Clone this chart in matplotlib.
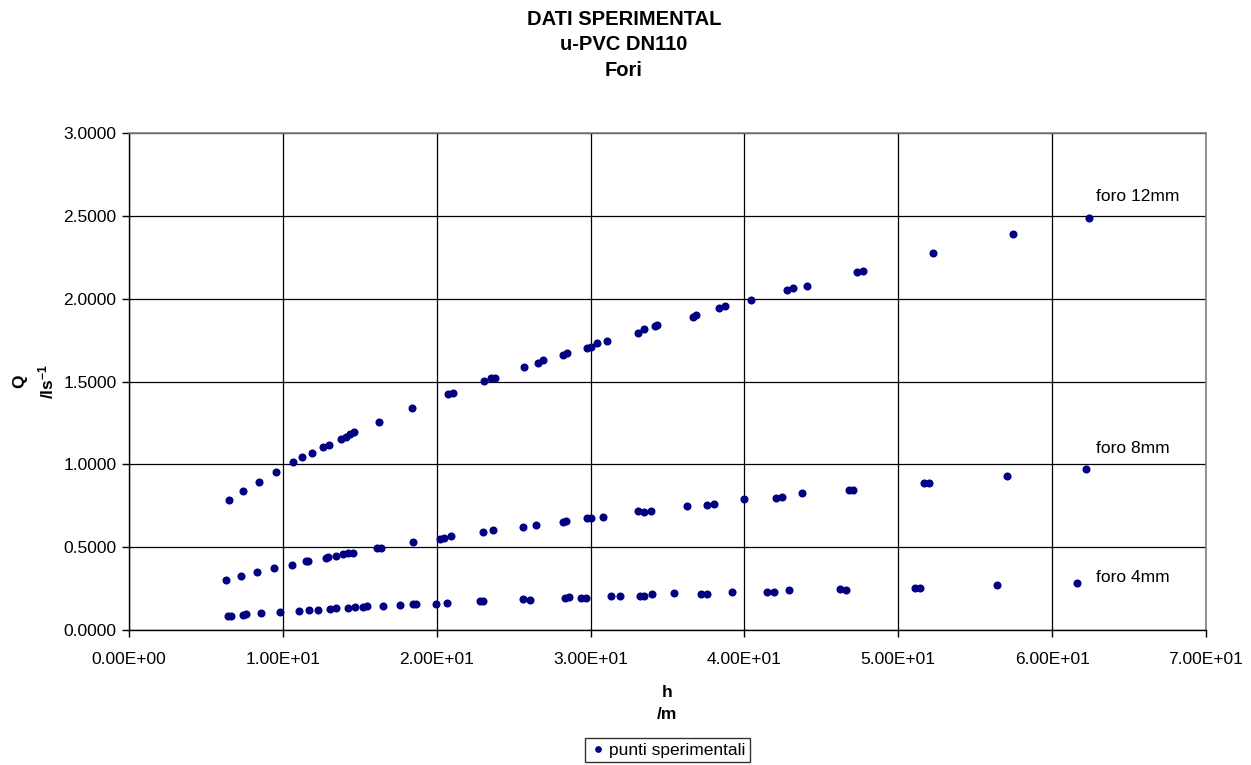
import numpy as np
import matplotlib
matplotlib.use("Agg")
import matplotlib.pyplot as plt
from matplotlib.ticker import FuncFormatter, MultipleLocator

plt.rcParams['font.family'] = ['Liberation Sans', 'DejaVu Sans']
plt.rcParams['mathtext.fontset'] = 'custom'
plt.rcParams['mathtext.rm'] = 'Liberation Sans'
plt.rcParams['mathtext.bf'] = 'Liberation Sans:bold'

# foro 12mm
h_12 = [6.52, 7.43, 8.45, 9.55, 10.68, 11.22, 11.87, 12.63, 13.0, 13.78, 14.08, 14.36,
        14.64, 16.25, 18.41, 20.75, 21.04, 23.07, 23.51, 23.79, 25.69, 26.6, 26.93,
        28.19, 28.45, 29.75, 30.03, 30.4, 31.05, 33.1, 33.47, 34.19, 34.34, 36.64,
        36.85, 38.35, 38.74, 40.43, 42.75, 43.14, 44.05, 47.34, 47.69, 52.27, 57.43, 62.4]
q_12 = [0.785, 0.839, 0.895, 0.954, 1.012, 1.042, 1.067, 1.105, 1.117, 1.151, 1.167, 1.181,
        1.193, 1.256, 1.340, 1.425, 1.429, 1.501, 1.521, 1.523, 1.588, 1.610, 1.630,
        1.660, 1.674, 1.700, 1.710, 1.731, 1.746, 1.795, 1.815, 1.837, 1.841, 1.891,
        1.900, 1.945, 1.956, 1.990, 2.054, 2.063, 2.076, 2.163, 2.169, 2.276, 2.389, 2.487]

# foro 8mm
h_8 = [6.33, 7.25, 8.29, 9.42, 10.57, 11.5, 11.65, 12.78, 12.95, 13.45, 13.93, 14.25,
       14.53, 16.1, 16.4, 18.48, 20.2, 20.5, 20.9, 23.03, 23.63, 25.6, 26.45, 28.2,
       28.4, 29.75, 30.0, 30.8, 33.1, 33.47, 33.9, 36.3, 37.6, 38.04, 40.0, 42.03,
       42.46, 43.76, 46.8, 47.07, 51.7, 52.0, 57.1, 62.2]
q_8 = [0.302, 0.326, 0.348, 0.372, 0.394, 0.415, 0.418, 0.437, 0.441, 0.449, 0.459, 0.465,
       0.467, 0.493, 0.497, 0.529, 0.549, 0.553, 0.565, 0.590, 0.604, 0.624, 0.634, 0.654,
       0.660, 0.678, 0.674, 0.684, 0.718, 0.710, 0.717, 0.750, 0.753, 0.759, 0.791, 0.799,
       0.803, 0.825, 0.843, 0.843, 0.885, 0.885, 0.932, 0.972]

# foro 4mm
h_4 = [6.45, 6.6, 7.38, 7.58, 8.58, 9.81, 11.07, 11.72, 12.3, 13.06, 13.45, 14.25,
       14.68, 15.22, 15.44, 16.48, 17.6, 18.48, 18.63, 19.93, 20.64, 22.81, 23.02, 25.6,
       26.05, 28.33, 28.6, 29.4, 29.68, 31.3, 31.9, 33.2, 33.5, 34.0, 35.4, 37.15, 37.6,
       39.2, 41.5, 41.9, 42.9, 46.2, 46.6, 51.1, 51.4, 56.45, 61.6]
q_4 = [0.085, 0.087, 0.092, 0.095, 0.101, 0.107, 0.115, 0.121, 0.123, 0.127, 0.133, 0.135,
       0.137, 0.141, 0.143, 0.145, 0.153, 0.155, 0.155, 0.157, 0.161, 0.173, 0.175, 0.187,
       0.181, 0.193, 0.197, 0.193, 0.195, 0.205, 0.207, 0.203, 0.205, 0.215, 0.221, 0.217,
       0.217, 0.231, 0.231, 0.231, 0.243, 0.246, 0.243, 0.255, 0.255, 0.272, 0.282]

labels = ['foro 12mm', 'foro 8mm', 'foro 4mm']
label_pos = [(62.83, 2.614), (62.83, 1.097), (62.83, 0.318)]

h_all = np.concatenate([h_12, h_8, h_4])
q_all = np.concatenate([q_12, q_8, q_4])

FS = 12.5

fig = plt.figure(figsize=(12.51, 7.65), dpi=100)
ax = fig.add_axes([0.1031, 0.1765, 0.8609, 0.6496])

ax.plot(h_all, q_all, 'o', color='#000080', markersize=4.8, label='punti sperimentali',
        zorder=3)

for txt, (x, y) in zip(labels, label_pos):
    ax.text(x, y, txt, fontsize=FS, ha='left', va='center')

ax.set_xlim(0, 70)
ax.set_ylim(0, 3)
ax.xaxis.set_major_locator(MultipleLocator(10))
ax.yaxis.set_major_locator(MultipleLocator(0.5))
ax.xaxis.set_major_formatter(FuncFormatter(lambda v, p: '{:.2E}'.format(v)))
ax.yaxis.set_major_formatter(FuncFormatter(lambda v, p: '{:.4f}'.format(v)))
ax.tick_params(labelsize=FS, direction='out', length=5, width=1, color='black', pad=4)
ax.tick_params(axis='x', pad=11)
ax.grid(True, color='black', linewidth=0.9)
ax.set_axisbelow(True)

for s in ['top', 'right']:
    ax.spines[s].set_color('#808080')
    ax.spines[s].set_linewidth(1.2)
for s in ['left', 'bottom']:
    ax.spines[s].set_color('black')
    ax.spines[s].set_linewidth(1)

ax.set_xlabel('h\n/m', fontsize=FS, fontweight='bold', labelpad=13, linespacing=1.55)
ax.set_ylabel('Q\n/ls$\\mathbf{^{-1}}$', fontsize=FS, fontweight='bold', labelpad=5,
              linespacing=1.55)

fig.text(624 / 1251, 1 - 10 / 765, 'DATI SPERIMENTAL\nu-PVC DN110\nFori', ha='center',
         va='top', fontsize=14.5, fontweight='bold', linespacing=1.42)

leg = fig.legend(loc='center', bbox_to_anchor=(667.5 / 1251, 1 - 750 / 765), fontsize=FS,
                 frameon=True, fancybox=False, handletextpad=0.1, borderpad=0.25,
                 handlelength=1, markerscale=0.8, borderaxespad=0)
leg.get_frame().set_edgecolor('black')
leg.get_frame().set_linewidth(1)

fig.savefig('out.png', dpi=100)
